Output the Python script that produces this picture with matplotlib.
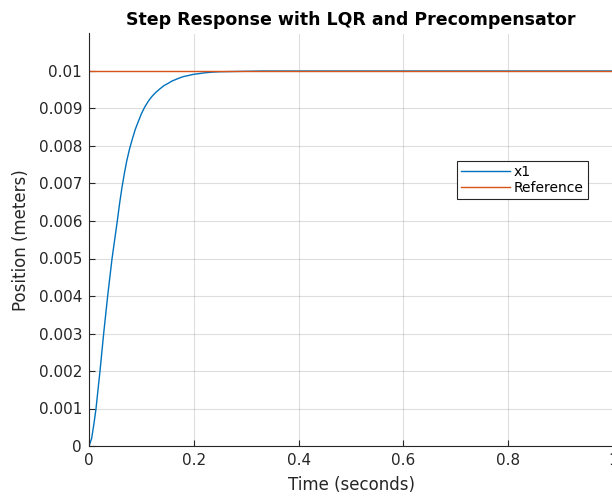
import matplotlib
matplotlib.use('Agg')
import matplotlib.pyplot as plt

# step response
t = [0, 0.005, 0.0095, 0.0134, 0.021, 0.028, 0.0356, 0.044, 0.054, 0.0585,
     0.063, 0.0675, 0.072, 0.0775, 0.083, 0.0885, 0.094, 0.100, 0.106, 0.113,
     0.120, 0.1275, 0.135, 0.143, 0.151, 0.158, 0.165, 0.172, 0.180, 0.190,
     0.199, 0.210, 0.220, 0.235, 0.250, 0.290, 0.330, 0.4, 0.5, 0.6,
     0.7, 0.8, 0.9, 1.0]
x1 = [0, 0.0002, 0.0006, 0.001, 0.002, 0.003, 0.004, 0.005, 0.006, 0.00648,
      0.0069, 0.00727, 0.0076, 0.00793, 0.0082, 0.00845, 0.00865, 0.00886, 0.00903, 0.00919,
      0.00932, 0.00943, 0.00952, 0.00961, 0.00967, 0.00973, 0.00977, 0.00981, 0.00985, 0.00988,
      0.00991, 0.00993, 0.00995, 0.00997, 0.00998, 0.00999, 0.0100, 0.0100, 0.0100, 0.0100,
      0.0100, 0.0100, 0.0100, 0.0100]
t_ref = [0, 1.0]
ref = [0.01, 0.01]

xticks = [0, 0.2, 0.4, 0.6, 0.8, 1.0]
xticklabels = ['0', '0.2', '0.4', '0.6', '0.8', '1']
yticks = [i * 0.001 for i in range(11)]
yticklabels = ['0'] + ['%.3f' % v for v in yticks[1:10]] + ['0.01']

axc = (0.15, 0.15, 0.15)
fig = plt.figure(figsize=(6.12, 4.96), dpi=100)
ax = fig.add_axes([89/612, 50/496, 524/612, 412.5/496])

ax.plot(t, x1, color='#0072BD', lw=1.0, label='x1')
ax.plot(t_ref, ref, color='#D95319', lw=1.0, label='Reference')

ax.set_xlim(0, 1)
ax.set_ylim(0, 0.011)
ax.set_xticks(xticks)
ax.set_xticklabels(xticklabels)
ax.set_yticks(yticks)
ax.set_yticklabels(yticklabels)
ax.tick_params(direction='in', length=4, width=0.8, colors=axc, labelsize=11, pad=5)
ax.grid(True, color=(0.15, 0.15, 0.15), alpha=0.15, lw=0.8)
ax.set_axisbelow(True)
for s in ['top', 'right']:
    ax.spines[s].set_visible(False)
for s in ['left', 'bottom']:
    ax.spines[s].set_color(axc)
    ax.spines[s].set_linewidth(0.8)

ax.set_xlabel('Time (seconds)', fontsize=12, color=axc, labelpad=6)
ax.set_ylabel('Position (meters)', fontsize=12, color=axc, labelpad=6)
ax.set_title('Step Response with LQR and Precompensator', fontsize=12.5,
             fontweight='bold', pad=6)

leg = ax.legend(loc='upper right', bbox_to_anchor=(0.952, 0.691), borderaxespad=0,
                fontsize=10, fancybox=False, framealpha=1, edgecolor=axc,
                handlelength=3.5, handletextpad=0.3, borderpad=0.3, labelspacing=0.15)
leg.get_frame().set_linewidth(0.8)

fig.savefig('out.png', dpi=100)
